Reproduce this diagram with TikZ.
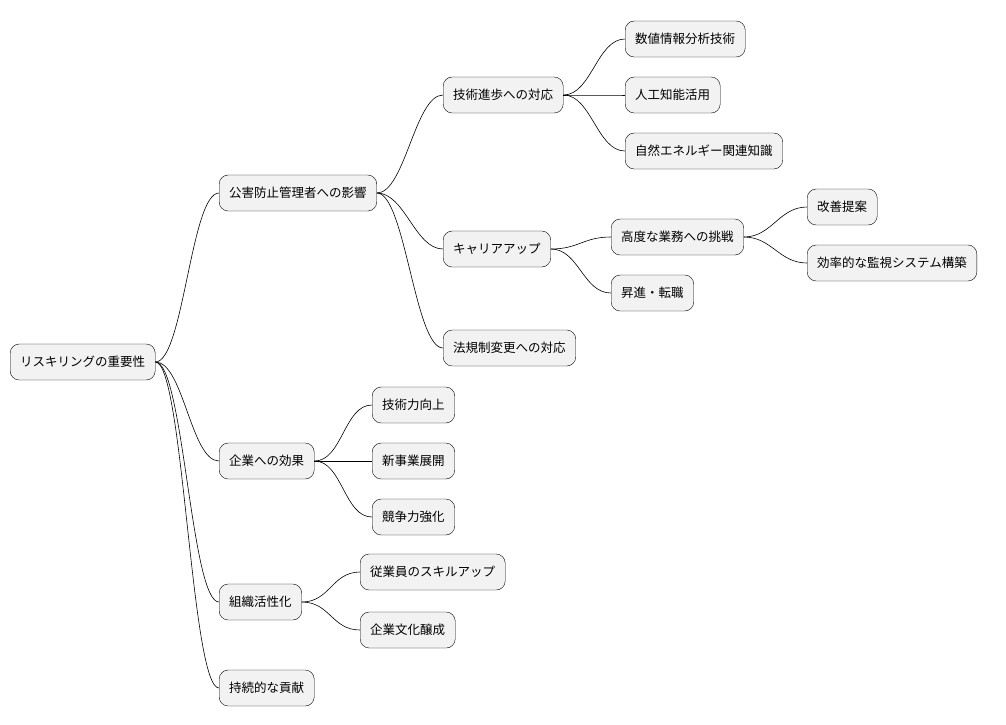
\documentclass[tikz,border=0pt]{standalone}
\usepackage{fontspec}
\setmainfont{Noto Sans CJK JP}
\usetikzlibrary{positioning}
\tikzset{
  topic/.style={draw=black, fill=gray!10, rounded corners=9pt, minimum height=36pt,
    inner xsep=10pt, anchor=west, font=\fontsize{12.5}{14}\selectfont},
  branch/.style={draw=black, line width=0.6pt}
}
\newcommand{\link}[2]{\draw[branch] (#1.east) .. controls +(28,0) and +(-28,0) .. (#2.west);}
\begin{document}
\begin{tikzpicture}[x=1pt,y=-1pt]
	\useasboundingbox (0,0) rectangle (1006,724);
	\node[topic] (root) at (10,362) {リスキリングの重要性};
	% first level
	\node[topic] (impact) at (219,193) {公害防止管理者への影響};
	\node[topic] (firm) at (219,461) {企業への効果};
	\node[topic] (org) at (219,602) {組織活性化};
	\node[topic] (contrib) at (219,688) {持続的な貢献};
	% second level
	\node[topic] (tech) at (443,95) {技術進歩への対応};
	\node[topic] (career) at (443,249) {キャリアアップ};
	\node[topic] (law) at (443,348) {法規制変更への対応};
	\node[topic] (skill) at (372,405) {技術力向上};
	\node[topic] (newbiz) at (372,461) {新事業展開};
	\node[topic] (compete) at (372,517) {競争力強化};
	\node[topic] (staff) at (360,572) {従業員のスキルアップ};
	\node[topic] (culture) at (360,630) {企業文化醸成};
	% third level
	\node[topic] (data) at (625,39) {数値情報分析技術};
	\node[topic] (ai) at (625,95) {人工知能活用};
	\node[topic] (energy) at (625,151) {自然エネルギー関連知識};
	\node[topic] (hard) at (611,237) {高度な業務への挑戦};
	\node[topic] (promo) at (611,293) {昇進・転職};
	\node[topic] (improve) at (807,207) {改善提案};
	\node[topic] (monitor) at (807,263) {効率的な監視システム構築};

	\foreach \a/\b in {root/impact, root/firm, root/org, root/contrib,
		impact/tech, impact/career, impact/law,
		firm/skill, firm/newbiz, firm/compete,
		org/staff, org/culture,
		tech/data, tech/ai, tech/energy,
		career/hard, career/promo,
		hard/improve, hard/monitor} {
		\link{\a}{\b}
	}
\end{tikzpicture}
\end{document}
